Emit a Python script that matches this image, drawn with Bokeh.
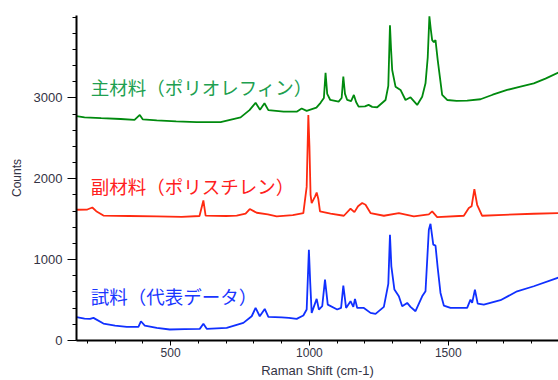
from bokeh.plotting import figure
from bokeh.models import Label, Range1d, FixedTicker
from bokeh.embed import file_html
from bokeh.resources import INLINE

# ---- data ----
green_x = [161, 190, 250, 320, 370, 389, 400, 450, 520, 594, 680, 752, 784, 806, 822, 838, 852,
           907, 954, 972, 990, 1025, 1040, 1052, 1058, 1064, 1075, 1105, 1116, 1122, 1128, 1136,
           1150, 1160, 1168, 1177, 1200, 1213, 1226, 1244, 1274, 1284, 1290, 1294, 1298, 1310,
           1328, 1346, 1364, 1388, 1406, 1418, 1426, 1432, 1437, 1442, 1448, 1454, 1462, 1478,
           1496, 1530, 1568, 1616, 1660, 1712, 1760, 1808, 1850, 1897]
green_y = [2775, 2760, 2750, 2740, 2728, 2790, 2735, 2722, 2710, 2700, 2702, 2760, 2850, 2940, 2855, 2935, 2850,
           2830, 2830, 2870, 2840, 2880, 2940, 3000, 3310, 3050, 2975, 2955, 3000, 3265, 3050, 2975,
           2960, 3037, 2950, 2893, 2895, 2914, 2890, 2885, 2975, 3150, 3900, 3600, 3346, 3140,
           3099, 2975, 3008, 2914, 3016, 3181, 3500, 4010, 3850, 3716, 3690, 3716, 3469, 3037,
           2975, 2965, 2967, 2984, 3040, 3099, 3140, 3181, 3240, 3315]

red_x = [161, 200, 218, 232, 258, 350, 450, 540, 604, 618, 626, 700, 738, 770, 785, 810, 850, 882,
         940, 978, 990, 996, 1000, 1004, 1008, 1020, 1026, 1032, 1038, 1076, 1124, 1148, 1162, 1175,
         1190, 1202, 1220, 1268, 1322, 1376, 1430, 1442, 1460, 1556, 1574, 1584, 1594, 1604, 1622,
         1700, 1808, 1897]
red_y = [1617, 1620, 1645, 1600, 1545, 1540, 1535, 1530, 1540, 1732, 1545, 1540, 1545, 1570, 1626, 1580, 1560, 1535,
         1550, 1576, 1900, 2790, 2400, 1800, 1700, 1780, 1831, 1750, 1597, 1568, 1543, 1630, 1588, 1660,
         1700, 1679, 1576, 1543, 1576, 1535, 1560, 1597, 1527, 1543, 1638, 1660, 1873, 1679, 1543,
         1555, 1568, 1576]

blue_x = [161, 190, 210, 222, 258, 300, 342, 384, 393, 407, 450, 497, 550, 605, 618, 630, 702, 762,
          792, 806, 821, 839, 852, 900, 926, 954, 978, 990, 998, 1003, 1008, 1026, 1034, 1046, 1056,
          1066, 1100, 1114, 1122, 1132, 1148, 1158, 1164, 1172, 1196, 1220, 1238, 1268, 1284, 1290,
          1295, 1306, 1322, 1334, 1352, 1364, 1382, 1406, 1418, 1430, 1436, 1446, 1454, 1462, 1472,
          1484, 1508, 1568, 1580, 1586, 1596, 1606, 1628, 1688, 1748, 1808, 1897]
blue_y = [288, 270, 268, 280, 210, 185, 169, 169, 238, 185, 155, 136, 140, 144, 206, 144, 156, 218,
          300, 403, 300, 391, 292, 285, 280, 268, 309, 383, 1123, 700, 342, 515, 383, 424, 753,
          444, 383, 403, 679, 403, 486, 416, 515, 403, 403, 342, 329, 416, 700, 1309,
          917, 630, 547, 424, 465, 416, 362, 547, 609, 1370, 1444, 1185, 1173, 897, 588,
          432, 403, 403, 506, 465, 630, 457, 444, 498, 609, 671, 778]

labels = ["主材料（ポリオレフィン）", "副材料（ポリスチレン）", "試料（代表データ）"]
x_title = "Raman Shift (cm-1)"
y_title = "Counts"
x_ticks = [500, 1000, 1500]
y_ticks = [0, 1000, 2000, 3000]

# ---- figure ----
p = figure(width=558, height=380, output_backend="svg", toolbar_location=None,
           x_range=Range1d(161, 1897), y_range=Range1d(0, 4020),
           min_border_left=76, min_border_right=0, min_border_top=15, min_border_bottom=39)
p.outline_line_color = None
p.xgrid.visible = False
p.ygrid.visible = False
p.background_fill_color = "white"

p.line(green_x, green_y, line_color="#008a0e", line_width=1.8)
p.line(red_x, red_y, line_color="#ff2a10", line_width=1.8)
p.line(blue_x, blue_y, line_color="#1030ff", line_width=1.8)

font = "Noto Sans CJK JP"
p.add_layout(Label(x=212, y=3140, text=labels[0], text_color="#20a050", text_font_size="18.5px",
                   text_font=font, text_baseline="middle"))
p.add_layout(Label(x=212, y=1905, text=labels[1], text_color="#ff2020", text_font_size="18.5px",
                   text_font=font, text_baseline="middle"))
p.add_layout(Label(x=212, y=547, text=labels[2], text_color="#1a36ff", text_font_size="18.5px",
                   text_font=font, text_baseline="middle"))

tick_color = "#333344"

ax = p.xaxis[0]
ax.ticker = FixedTicker(ticks=x_ticks, minor_ticks=list(range(200, 1901, 100)))
ax.axis_label = x_title
ax.axis_label_text_font = "Liberation Sans"
ax.axis_label_text_font_style = "normal"
ax.axis_label_text_font_size = "13px"
ax.axis_label_text_color = tick_color
ax.axis_label_text_line_height = 1.0
ax.axis_label_standoff = 3
ax.major_label_text_font = "Liberation Sans"
ax.major_label_text_font_size = "12px"
ax.major_label_text_color = tick_color
ax.major_label_text_line_height = 1.0
ax.major_label_standoff = 2
ax.axis_line_width = 2
ax.major_tick_in = 0
ax.major_tick_out = 5
ax.minor_tick_in = 0
ax.minor_tick_out = 3

ay = p.yaxis[0]
ay.ticker = FixedTicker(ticks=y_ticks, minor_ticks=list(range(0, 4001, 200)))
ay.axis_label = y_title
ay.axis_label_text_font = "Liberation Sans"
ay.axis_label_text_font_style = "normal"
ay.axis_label_text_font_size = "12px"
ay.axis_label_text_color = tick_color
ay.axis_label_standoff = 7
ay.major_label_text_font = "Liberation Sans"
ay.major_label_text_font_size = "13px"
ay.major_label_text_color = tick_color
ay.major_label_standoff = 5
ay.axis_line_width = 2
ay.major_tick_in = 0
ay.major_tick_out = 9
ay.minor_tick_in = 0
ay.minor_tick_out = 4

open("out.html", "w").write(file_html(p, INLINE))
